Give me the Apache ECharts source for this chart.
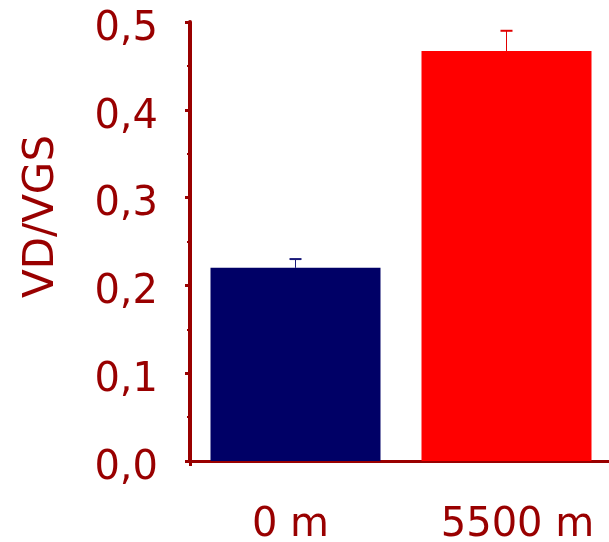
<!DOCTYPE html>
<html>
<head>
<meta charset="utf-8">
<script src="https://cdn.jsdelivr.net/npm/echarts@6/dist/echarts.min.js"></script>
<style>
  html, body { margin: 0; padding: 0; background: #ffffff; }
  #chart { width: 609px; height: 542px; }
</style>
</head>
<body>
<div id="chart"></div>
<script>
// Altitude groups and their VD/VGS ratio (mean and upper error)
const categories = ['0 m', '5500 m'];
const means = [0.22, 0.467];
const errors = [0.01, 0.023];
const barColors = ['#000066', '#ff0000'];
const errorColors = ['#1a1a7a', '#e00000'];
const yTickLabels = ['0,0', '0,1', '0,2', '0,3', '0,4', '0,5'];

const axisRed = '#990000';
const font = 'DejaVu Sans';
// horizontal nudge of each category label, in px (negative = left)
const labelNudge = [-5, 11];

const chart = echarts.init(document.getElementById('chart'), null, { renderer: 'canvas' });

const errorData = categories.map((c, i) => [i, means[i], means[i] + errors[i]]);
const categoryItems = categories.map((c, i) => ({
  value: c,
  textStyle: {
    padding: labelNudge[i] < 0 ? [0, -2 * labelNudge[i], 0, 0] : [0, 0, 0, 2 * labelNudge[i]]
  }
}));

chart.setOption({
  animation: false,
  backgroundColor: '#ffffff',
  grid: { left: 190, top: 22, width: 422, height: 439, outerBoundsMode: 'none', containLabel: false },
  xAxis: {
    type: 'category',
    data: categoryItems,
    boundaryGap: true,
    axisLine: { show: true, lineStyle: { color: axisRed, width: 3 } },
    axisTick: {
      show: true,
      interval: (idx) => idx === 0,
      length: 5,
      lineStyle: { color: axisRed, width: 3 }
    },
    axisLabel: {
      color: axisRed, fontFamily: font, fontSize: 40, margin: 45
    },
    splitLine: { show: false }
  },
  yAxis: {
    type: 'value',
    min: 0, max: 0.5, interval: 0.1,
    name: 'VD/VGS',
    nameLocation: 'middle',
    nameRotate: 90,
    nameGap: 127,
    nameTextStyle: { color: axisRed, fontFamily: font, fontSize: 42, padding: [0, 0, 0, 50] },
    axisLine: { show: true, lineStyle: { color: axisRed, width: 4 } },
    axisTick: { show: true, length: 5, lineStyle: { color: axisRed, width: 3 } },
    minorTick: { show: true, splitNumber: 2, length: 3, lineStyle: { color: axisRed, width: 2 } },
    axisLabel: {
      color: axisRed, fontFamily: font, fontSize: 40, margin: 32,
      verticalAlign: 'top', lineHeight: 15,
      formatter: (v) => yTickLabels[Math.round(v * 10)]
    },
    splitLine: { show: false }
  },
  series: [
    {
      type: 'bar',
      data: means,
      barWidth: 170,
      itemStyle: { color: (p) => barColors[p.dataIndex] },
      z: 2
    },
    {
      type: 'custom',
      data: errorData,
      z: 3,
      renderItem: (params, api) => {
        const i = api.value(0);
        const base = api.coord([i, api.value(1)]);
        const top = api.coord([i, api.value(2)]);
        const color = errorColors[params.dataIndex];
        const half = 6;
        return {
          type: 'group',
          children: [
            { type: 'line', shape: { x1: base[0], y1: base[1], x2: top[0], y2: top[1] },
              style: { stroke: color, lineWidth: 1 } },
            { type: 'line', shape: { x1: top[0] - half, y1: top[1], x2: top[0] + half, y2: top[1] },
              style: { stroke: color, lineWidth: 2 } }
          ]
        };
      }
    }
  ]
});
</script>
</body>
</html>
